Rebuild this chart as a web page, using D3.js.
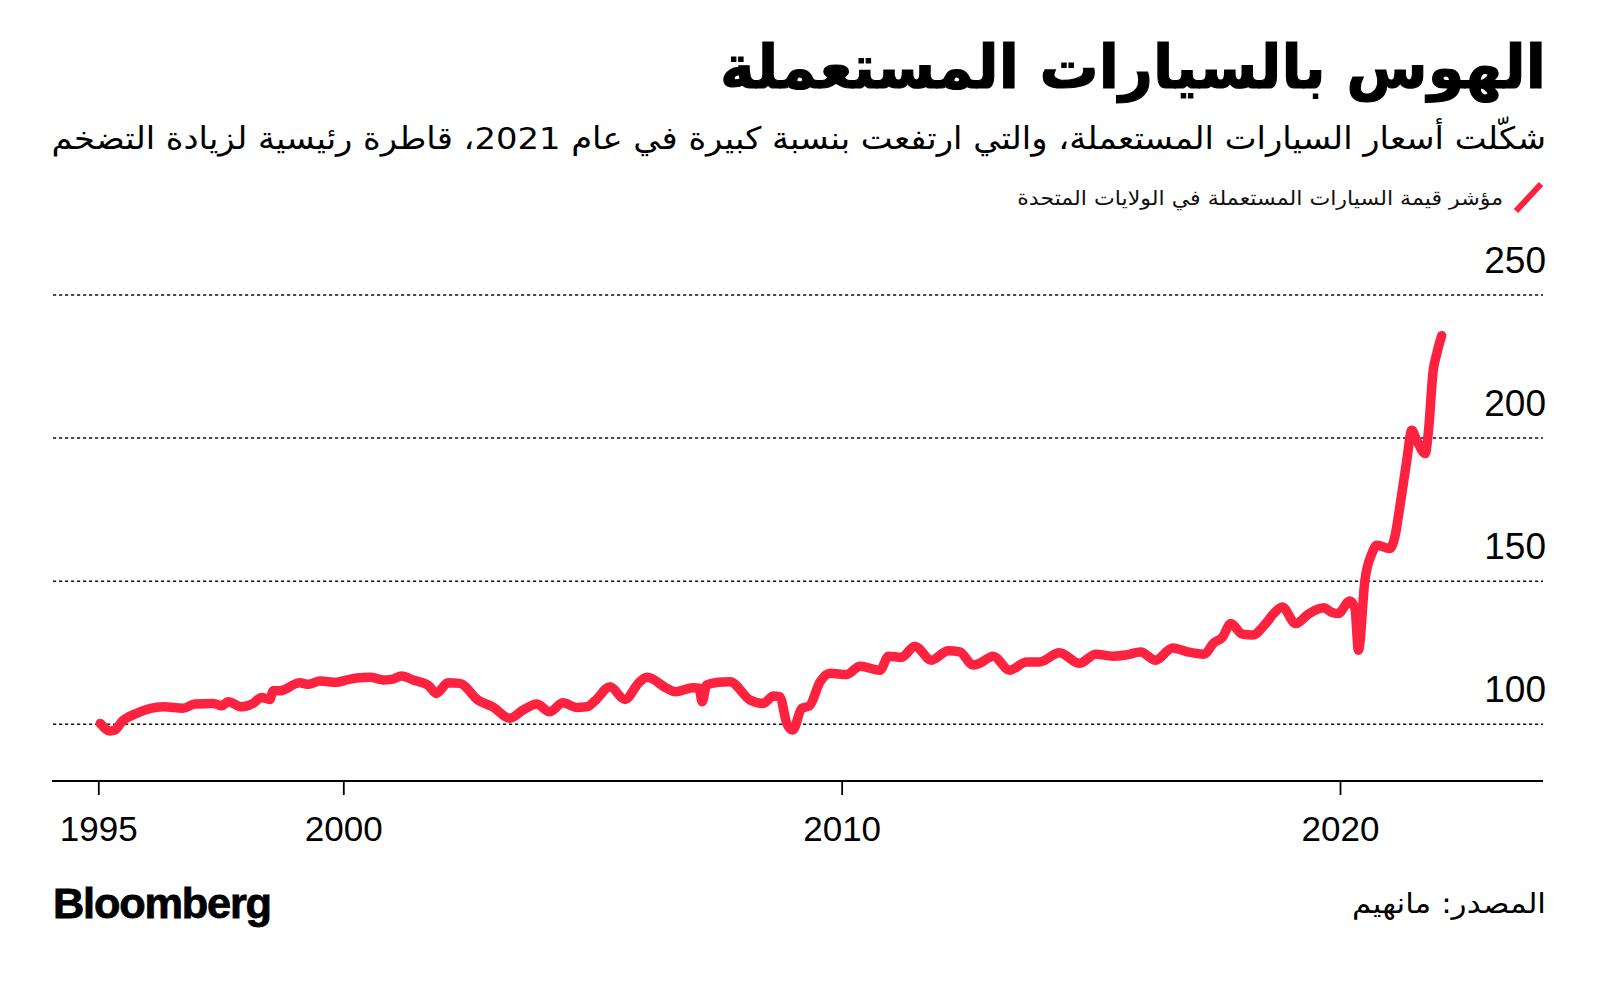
<!DOCTYPE html>
<html>
<head>
<meta charset="utf-8">
<script src="https://cdn.jsdelivr.net/npm/d3@7"></script>
<style>
  html, body { margin: 0; padding: 0; background: #ffffff; }
  svg { display: block; }
</style>
</head>
<body>
<svg id="chart" width="1600" height="987"></svg>
<script>
// ---------- Text ----------
const titleText = "الهوس بالسيارات المستعملة";
const subtitleText = "شكّلت أسعار السيارات المستعملة، والتي ارتفعت بنسبة كبيرة في عام 2021، قاطرة رئيسية لزيادة التضخم";
const legendLabel = "مؤشر قيمة السيارات المستعملة في الولايات المتحدة";
const sourceText = "المصدر: مانهيم";
const brandText = "Bloomberg";

// ---------- Axis ticks ----------
const yTicks = [100, 150, 200, 250];
const xTicks = [1995, 2000, 2010, 2020];

// ---------- Series: Manheim used vehicle value index (decimal year, value) ----------
const years = [
  1995.04, 1995.24, 1995.34, 1995.48, 1995.78, 1996.33, 1996.73, 1996.97,
  1997.35, 1997.52, 1997.65, 1997.93, 1998.16, 1998.33, 1998.50, 1998.57,
  1998.70, 1999.11, 1999.29, 1999.52, 1999.86, 2000.07, 2000.27, 2000.54,
  2000.80, 2000.97, 2001.17, 2001.40, 2001.70, 2001.87, 2002.10, 2002.34,
  2002.70, 2003.00, 2003.34, 2003.61, 2003.88, 2004.14, 2004.41, 2004.68,
  2004.88, 2005.05, 2005.35, 2005.65, 2005.95, 2006.10, 2006.49, 2006.66,
  2007.02, 2007.14, 2007.20, 2007.29, 2007.52, 2007.76, 2008.16, 2008.43,
  2008.63, 2008.76, 2008.90, 2009.02, 2009.20, 2009.35, 2009.57, 2009.77,
  2010.10, 2010.37, 2010.77, 2010.94, 2011.20, 2011.47, 2011.80, 2012.14,
  2012.37, 2012.64, 2012.77, 2013.04, 2013.37, 2013.71, 2013.97, 2014.37,
  2014.77, 2015.10, 2015.44, 2015.70, 2016.00, 2016.30, 2016.64, 2016.94,
  2017.27, 2017.47, 2017.64, 2017.81, 2018.04, 2018.24, 2018.51, 2018.67,
  2018.84, 2019.11, 2019.38, 2019.68, 2019.81, 2019.96, 2020.20, 2020.30,
  2020.37, 2020.50, 2020.64, 2020.74, 2021.00, 2021.10, 2021.20, 2021.34,
  2021.44, 2021.54, 2021.71, 2021.77, 2021.87, 2021.94, 2022.04
];
const values = [
  100.3, 97.7, 98.0, 100.9, 103.8, 106.1, 105.6, 107.1,
  107.3, 106.5, 107.9, 106.1, 107.3, 109.4, 108.7, 111.7,
  111.7, 114.5, 114.0, 115.1, 114.7, 115.5, 116.2, 116.4,
  115.5, 115.7, 116.9, 115.5, 113.7, 110.8, 114.5, 114.3,
  108.5, 106.1, 102.1, 105.0, 107.1, 104.4, 107.5, 105.9,
  106.1, 108.2, 113.1, 108.7, 114.9, 116.4, 112.6, 111.4,
  112.8, 112.6, 107.9, 113.7, 114.7, 114.9, 108.5, 107.3,
  109.9, 109.6, 100.3, 98.0, 105.6, 106.4, 114.9, 117.8,
  117.4, 120.3, 118.9, 123.8, 123.4, 127.3, 122.4, 125.7,
  125.3, 120.7, 121.3, 123.8, 118.9, 121.8, 121.8, 125.0,
  121.3, 124.5, 123.8, 124.2, 125.3, 122.4, 126.7, 125.3,
  124.5, 128.5, 130.4, 135.2, 131.5, 131.2, 135.2, 138.7,
  141.0, 135.2, 138.7, 140.7, 139.3, 138.7, 143.1, 140.5,
  125.9, 150.3, 159.7, 162.6, 161.4, 165.5, 175.9, 192.2,
  202.7, 199.2, 194.6, 201.5, 223.6, 229.4, 235.8
];

const data = years.map((y, i) => ({ year: y, value: values[i] }));

// ---------- Layout ----------
const svg = d3.select("#chart");
const plotLeft = 53, plotRight = 1543, rightEdge = 1546;
const lineColor = "#fd2340";
const arabicFont = "'DejaVu Sans', sans-serif";
const latinFont = "'Liberation Sans', Arial, Helvetica, sans-serif";

const x = d3.scaleLinear()
  .domain([1995, 2000, 2020])
  .range([98.3, 343.3, 1340]);

const y = d3.scaleLinear()
  .domain([100, 250])
  .range([724.3, 295]);

// helper: scale font-size so text spans a target width
function fitWidth(sel, target) {
  const node = sel.node();
  const w = node.getComputedTextLength();
  const fs = parseFloat(sel.attr("font-size"));
  if (w > 0) sel.attr("font-size", (fs * target / w).toFixed(2));
}
// helper: keep font-size, squeeze horizontally (anchored at right edge) to a target width
function squeezeWidth(sel, target, anchorX, baseY) {
  const w = sel.node().getComputedTextLength();
  const k = w > 0 ? target / w : 1;
  sel.attr("x", 0).attr("y", 0)
     .attr("transform", `translate(${anchorX},${baseY}) scale(${k.toFixed(4)},1)`);
}

// ---------- Title / subtitle ----------
const title = svg.append("text")
  .attr("text-anchor", "end")
  .attr("font-family", arabicFont)
  .attr("font-weight", "bold")
  .attr("font-size", 60)
  .attr("stroke", "#000")
  .attr("stroke-width", 1.2)
  .attr("fill", "#000")
  .text(titleText);
squeezeWidth(title, 826, rightEdge, 88);

const subtitle = svg.append("text")
  .attr("text-anchor", "end")
  .attr("font-family", arabicFont)
  .attr("font-size", 31)
  .attr("fill", "#000")
  .text(subtitleText);
squeezeWidth(subtitle, 1495, rightEdge, 149);

// ---------- Legend ----------
svg.append("line")
  .attr("x1", 1516).attr("y1", 211)
  .attr("x2", 1541).attr("y2", 184)
  .attr("stroke", lineColor)
  .attr("stroke-width", 6);

const legendText = svg.append("text")
  .attr("text-anchor", "end")
  .attr("font-family", arabicFont)
  .attr("font-size", 20)
  .attr("fill", "#111")
  .text(legendLabel);
squeezeWidth(legendText, 486, 1503, 205);

// ---------- Gridlines & y labels ----------
const grid = svg.append("g");
grid.selectAll("line")
  .data(yTicks)
  .join("line")
  .attr("x1", plotLeft).attr("x2", plotRight)
  .attr("y1", d => y(d)).attr("y2", d => y(d))
  .attr("stroke", "#111")
  .attr("stroke-width", 1.5)
  .attr("stroke-dasharray", "3.2,2.8");

grid.selectAll("text")
  .data(yTicks)
  .join("text")
  .attr("x", rightEdge)
  .attr("y", d => y(d) - 22)
  .attr("text-anchor", "end")
  .attr("font-family", latinFont)
  .attr("font-size", 37)
  .attr("fill", "#000")
  .text(d => d);

// ---------- X axis ----------
const xAxis = d3.axisBottom(x)
  .tickValues(xTicks)
  .tickFormat(d3.format("d"))
  .tickSize(14)
  .tickPadding(21);

const xg = svg.append("g")
  .attr("transform", "translate(0,781)")
  .call(xAxis);
xg.select(".domain").remove();
xg.selectAll(".tick line").attr("stroke", "#000").attr("stroke-width", 1.8);
xg.selectAll(".tick text")
  .attr("font-family", latinFont)
  .attr("font-size", 35)
  .attr("fill", "#000");

svg.append("line")
  .attr("x1", plotLeft - 1).attr("x2", plotRight)
  .attr("y1", 781).attr("y2", 781)
  .attr("stroke", "#000")
  .attr("stroke-width", 2.2);

// ---------- Line ----------
const line = d3.line()
  .curve(d3.curveMonotoneX)
  .x(d => x(d.year))
  .y(d => y(d.value));

svg.append("path")
  .datum(data)
  .attr("d", line)
  .attr("fill", "none")
  .attr("stroke", lineColor)
  .attr("stroke-width", 9.5)
  .attr("stroke-linejoin", "round")
  .attr("stroke-linecap", "round");

// ---------- Footer ----------
const brand = svg.append("text")
  .attr("x", plotLeft).attr("y", 918)
  .attr("font-family", latinFont)
  .attr("font-weight", "bold")
  .attr("font-size", 40)
  .attr("letter-spacing", -1.2)
  .attr("stroke", "#000")
  .attr("stroke-width", 0.8)
  .attr("fill", "#000")
  .text(brandText);
fitWidth(brand, 217);

const source = svg.append("text")
  .attr("text-anchor", "end")
  .attr("font-family", arabicFont)
  .attr("font-size", 28)
  .attr("fill", "#000")
  .text(sourceText);
squeezeWidth(source, 194, rightEdge, 913);
</script>
</body>
</html>
